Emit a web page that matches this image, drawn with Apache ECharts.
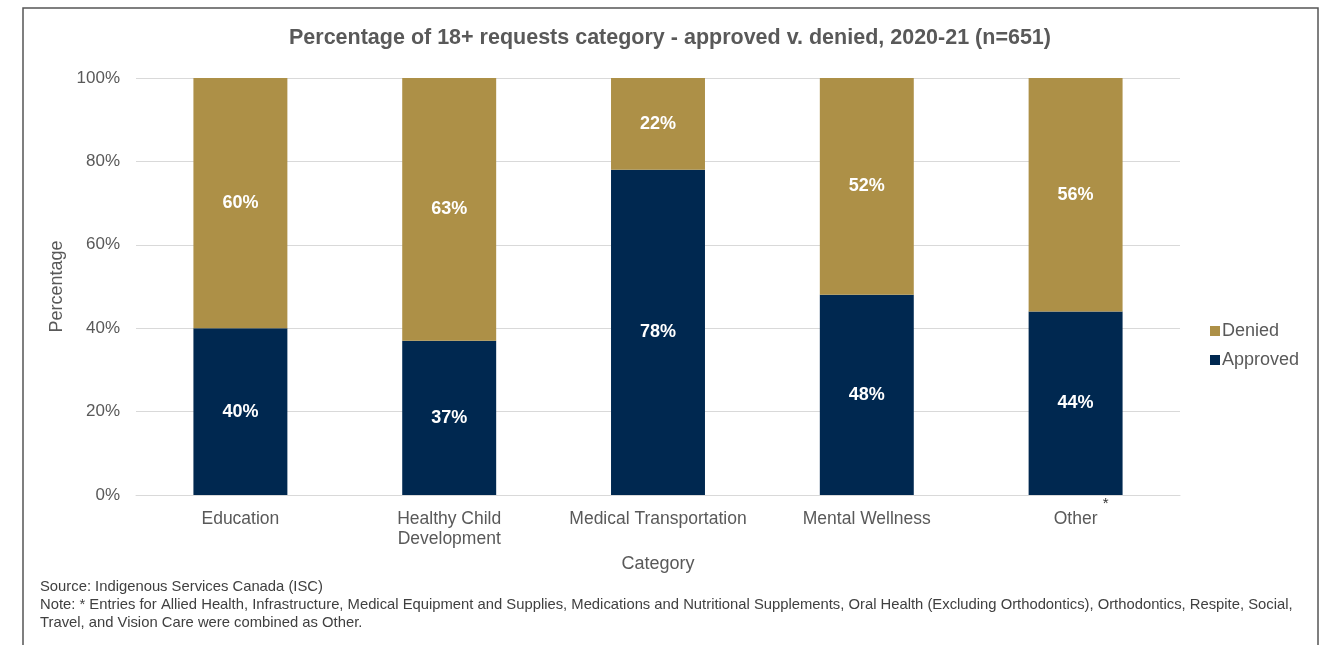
<!DOCTYPE html>
<html>
<head>
<meta charset="utf-8">
<script src="https://cdn.jsdelivr.net/npm/echarts@6/dist/echarts.min.js"></script>
<style>
  html, body { margin: 0; padding: 0; background: #ffffff; }
  #chart { width: 1320px; height: 645px; }
</style>
</head>
<body>
<div id="chart"></div>
<script>
// Request categories and the approved/denied shares (percent)
const categories = ['Education', 'Healthy Child\nDevelopment', 'Medical Transportation', 'Mental Wellness', 'Other'];
const approved = [40, 37, 78, 48, 44];
const denied = [60, 63, 22, 52, 56];
const yTicks = [0, 20, 40, 60, 80, 100];
// Category that carries the footnote marker
const footnoteCategory = 'Other';

const FONT = '"Liberation Sans", Arial, sans-serif';
const GREY = '#595959';

const chart = echarts.init(document.getElementById('chart'));

const valueLabel = {
  show: true,
  position: 'inside',
  color: '#ffffff',
  fontFamily: FONT,
  fontWeight: 'bold',
  fontSize: 18,
  formatter: p => p.value + '%'
};

const frame = {
  type: 'rect',
  shape: { x: 23, y: 8, width: 1295, height: 660 },
  style: { fill: 'none', stroke: '#555555', lineWidth: 1.5 },
  silent: true
};

chart.setOption({
  backgroundColor: '#ffffff',
  animation: false,
  title: [
    {
      text: 'Percentage of 18+ requests category - approved v. denied, 2020-21 (n=651)',
      left: 289,
      top: 27,
      padding: 0,
      textStyle: { fontFamily: FONT, fontSize: 21.5, fontWeight: 'bold', color: GREY }
    },
    {
      text: 'Source: Indigenous Services Canada (ISC)\nNote: * Entries for Allied Health, Infrastructure, Medical Equipment and Supplies, Medications and Nutritional Supplements, Oral Health (Excluding Orthodontics), Orthodontics, Respite, Social,\nTravel, and Vision Care were combined as Other.',
      left: 40,
      top: 578,
      padding: 0,
      textStyle: { fontFamily: FONT, fontSize: 14.8, fontWeight: 'normal', color: '#404040', lineHeight: 18 }
    }
  ],
  graphic: [frame],
  legend: {
    orient: 'vertical',
    left: 1205,
    top: 317,
    itemWidth: 10,
    itemHeight: 10,
    itemGap: 11,
    icon: 'rect',
    data: ['Denied', 'Approved'],
    textStyle: { fontFamily: FONT, fontSize: 18, color: GREY, padding: [0, 0, 0, -3] }
  },
  grid: { left: 136, right: 140, top: 78, bottom: 150, containLabel: false },
  xAxis: {
    type: 'category',
    data: categories,
    name: 'Category',
    nameLocation: 'middle',
    nameGap: 60,
    nameTextStyle: { fontFamily: FONT, fontSize: 18, color: GREY },
    axisLine: { show: true, lineStyle: { color: '#d9d9d9', width: 1 } },
    axisTick: { show: false },
    axisLabel: {
      interval: 0,
      margin: 14,
      fontFamily: FONT,
      fontSize: 17.5,
      color: GREY,
      lineHeight: 20
    }
  },
  yAxis: {
    type: 'value',
    min: yTicks[0],
    max: yTicks[yTicks.length - 1],
    interval: yTicks[1] - yTicks[0],
    name: 'Percentage',
    nameLocation: 'middle',
    nameGap: 62,
    nameTextStyle: { fontFamily: FONT, fontSize: 18, color: GREY },
    axisLine: { show: false },
    axisTick: { show: false },
    axisLabel: { margin: 16, fontFamily: FONT, fontSize: 17, color: GREY, formatter: v => v + '%' },
    splitLine: { lineStyle: { color: '#d9d9d9', width: 1 } }
  },
  series: [
    {
      name: 'Approved',
      type: 'bar',
      stack: 'total',
      barWidth: '45%',
      data: approved,
      itemStyle: { color: '#002850' },
      label: valueLabel
    },
    {
      name: 'Denied',
      type: 'bar',
      stack: 'total',
      barWidth: '45%',
      data: denied,
      itemStyle: { color: '#AD9047' },
      label: valueLabel
    }
  ]
});

// Superscript footnote marker beside the "Other" category label
const base = chart.convertToPixel({ xAxisIndex: 0, yAxisIndex: 0 }, [footnoteCategory, 0]);
chart.setOption({
  graphic: [
    frame,
    {
      type: 'text',
      x: base[0] + 30,
      y: base[1] + 1,
      silent: true,
      style: { text: '*', fontFamily: FONT, fontSize: 15, fill: '#333333', align: 'center', verticalAlign: 'top' }
    }
  ]
});
</script>
</body>
</html>
